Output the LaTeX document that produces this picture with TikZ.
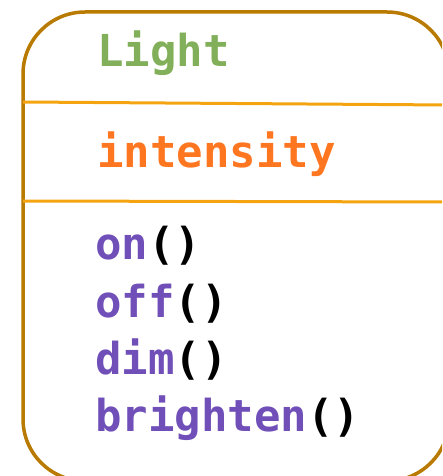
\documentclass[tikz,border=0pt]{standalone}
\usepackage{fontspec}
\setmonofont{DejaVu Sans Mono}
\definecolor{frame}{HTML}{B87A00}
\definecolor{divider}{HTML}{F5A411}
\definecolor{classname}{HTML}{82AF5A}
\definecolor{attr}{HTML}{FF7620}
\definecolor{method}{HTML}{7050B8}
\begin{document}
\begin{tikzpicture}[x=1pt,y=-1pt,
  member/.style={anchor=base west, inner sep=0pt,
    font=\ttfamily\bfseries\fontsize{44}{44}\selectfont}]
\useasboundingbox (0,0) rectangle (442,476);
\begin{scope}
  \clip (0,0) rectangle (442,476);
  % class box outline
  \draw[line width=3.5pt, draw=frame, rounded corners=62pt] (23,12) rectangle (449,481);
  % compartment dividers
  \coordinate (d1l) at (23,102);
  \coordinate (d1r) at (449,105);
  \coordinate (d2l) at (23,201);
  \coordinate (d2r) at (449,202);
  \draw[line width=3pt, draw=divider] (d1l) -- (d1r);
  \draw[line width=3pt, draw=divider] (d2l) -- (d2r);
\end{scope}
% class name
\node[member, text=classname] (name) at (97,67) {Light};
% attribute
\node[member, text=attr] (intensity) at (97,167) {intensity};
% operations
\node[member, text=method] (on) at (95,259) {on\textcolor{black}{()}};
\node[member, text=method] (off) at (95,317) {off\textcolor{black}{()}};
\node[member, text=method] (dim) at (95,374) {dim\textcolor{black}{()}};
\node[member, text=method] (brighten) at (95,431) {brighten\textcolor{black}{()}};
\end{tikzpicture}
\end{document}
